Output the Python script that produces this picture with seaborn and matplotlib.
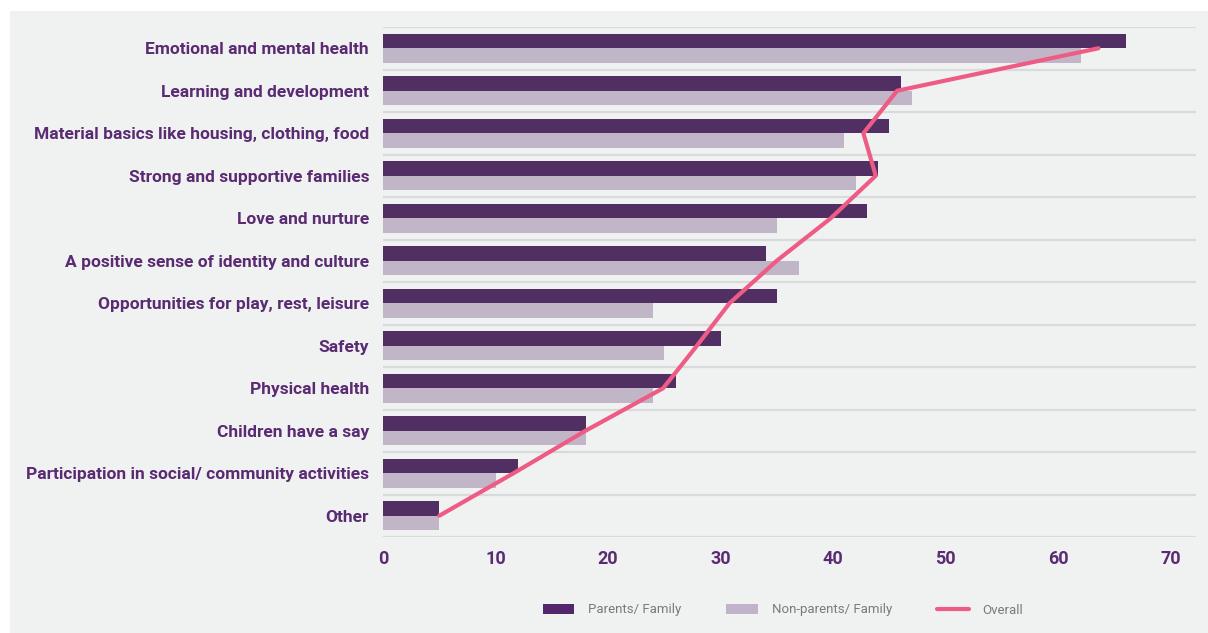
import numpy as np
import pandas as pd
import seaborn as sns
import matplotlib
matplotlib.use("Agg")
import matplotlib.pyplot as plt
from matplotlib.patches import Rectangle, Patch
from matplotlib.lines import Line2D

categories = [
    "Emotional and mental health",
    "Learning and development",
    "Material basics like housing, clothing, food",
    "Strong and supportive families",
    "Love and nurture",
    "A positive sense of identity and culture",
    "Opportunities for play, rest, leisure",
    "Safety",
    "Physical health",
    "Children have a say",
    "Participation in social/ community activities",
    "Other",
]
parents = [66, 46, 45, 44, 43, 34, 35, 30, 26, 18, 12, 5]
non_parents = [62, 47, 41, 42, 35, 37, 24, 25, 24, 18, 10, 5]
overall = [63.6, 45.7, 42.7, 43.8, 39.8, 35.0, 30.8, 27.9, 24.9, 18.0, 11.6, 5.0]
series_names = ["Parents/ Family", "Non-parents/ Family", "Overall"]
x_ticks = [0, 10, 20, 30, 40, 50, 60, 70]

BG = "#f0f2f1"
DARK = "#54266b"
LIGHT = "#c1b3cb"
PINK = "#ee5c85"
LABEL = "#5a2a72"
GRID = "#d9dadb"

sns.set_theme(style="white")
plt.rcParams["font.family"] = ["Roboto", "DejaVu Sans"]

df = pd.DataFrame({
    "category": categories * 2,
    "value": parents + non_parents,
    "group": [series_names[0]] * len(categories) + [series_names[1]] * len(categories),
})

fig = plt.figure(figsize=(12.08, 6.33), dpi=100)
fig.patch.set_facecolor("white")
fig.patches.append(Rectangle((10 / 1208, 0), 1, 1 - 11 / 633, transform=fig.transFigure,
                             facecolor=BG, edgecolor="none", zorder=-10))
ax = fig.add_axes([383 / 1208, 1 - 537 / 633, (1196 - 383) / 1208, (537 - 27) / 633])
ax.set_facecolor(BG)

sns.barplot(data=df, y="category", x="value", hue="group", orient="h",
            palette=[DARK, LIGHT], width=0.68, linewidth=0, ax=ax, legend=False,
            order=categories, hue_order=series_names[:2])

pos = np.arange(len(categories))
sns.lineplot(x=overall, y=pos, orient="y", sort=False, estimator=None, color=PINK,
             linewidth=3.0, ax=ax, legend=False)
for ln in ax.lines:
    ln.set_solid_capstyle("round")
    ln.set_solid_joinstyle("round")

ax.set_xlim(0, (1196 - 383) / 11.25)
ax.set_ylim(len(categories) - 0.5, -0.5)
ax.set_xticks(x_ticks)
ax.set_xticklabels([str(t) for t in x_ticks])
ax.set_yticks(pos)
ax.set_yticklabels(categories)
ax.set_yticks(np.arange(-0.5, len(categories), 1), minor=True)
ax.grid(False)
ax.grid(True, which="minor", axis="y", color=GRID, linewidth=1.6)
ax.set_axisbelow(True)
for s in ax.spines.values():
    s.set_visible(False)
ax.set_xlabel("")
ax.set_ylabel("")
ax.tick_params(axis="both", which="both", length=0)
ax.tick_params(axis="y", pad=10)
ax.tick_params(axis="x", pad=9)
for t in ax.get_yticklabels():
    t.set_fontsize(12.5)
    t.set_fontweight("bold")
    t.set_color(LABEL)
for t in ax.get_xticklabels():
    t.set_fontsize(13)
    t.set_fontweight("bold")
    t.set_color(LABEL)

handles = [
    Patch(facecolor=DARK, edgecolor="none"),
    Patch(facecolor=LIGHT, edgecolor="none"),
    Line2D([0], [0], color=PINK, linewidth=3.0, solid_capstyle="round"),
]
leg = fig.legend(handles, series_names, loc="center", bbox_to_anchor=(783 / 1208, 1 - 610 / 633),
                 ncol=3, frameon=False, fontsize=9.5, handlelength=2.4, handleheight=0.75,
                 columnspacing=3.4, handletextpad=1.05)
for t in leg.get_texts():
    t.set_color("#7a7a7a")

fig.savefig("out.png", dpi=100, facecolor="white")
